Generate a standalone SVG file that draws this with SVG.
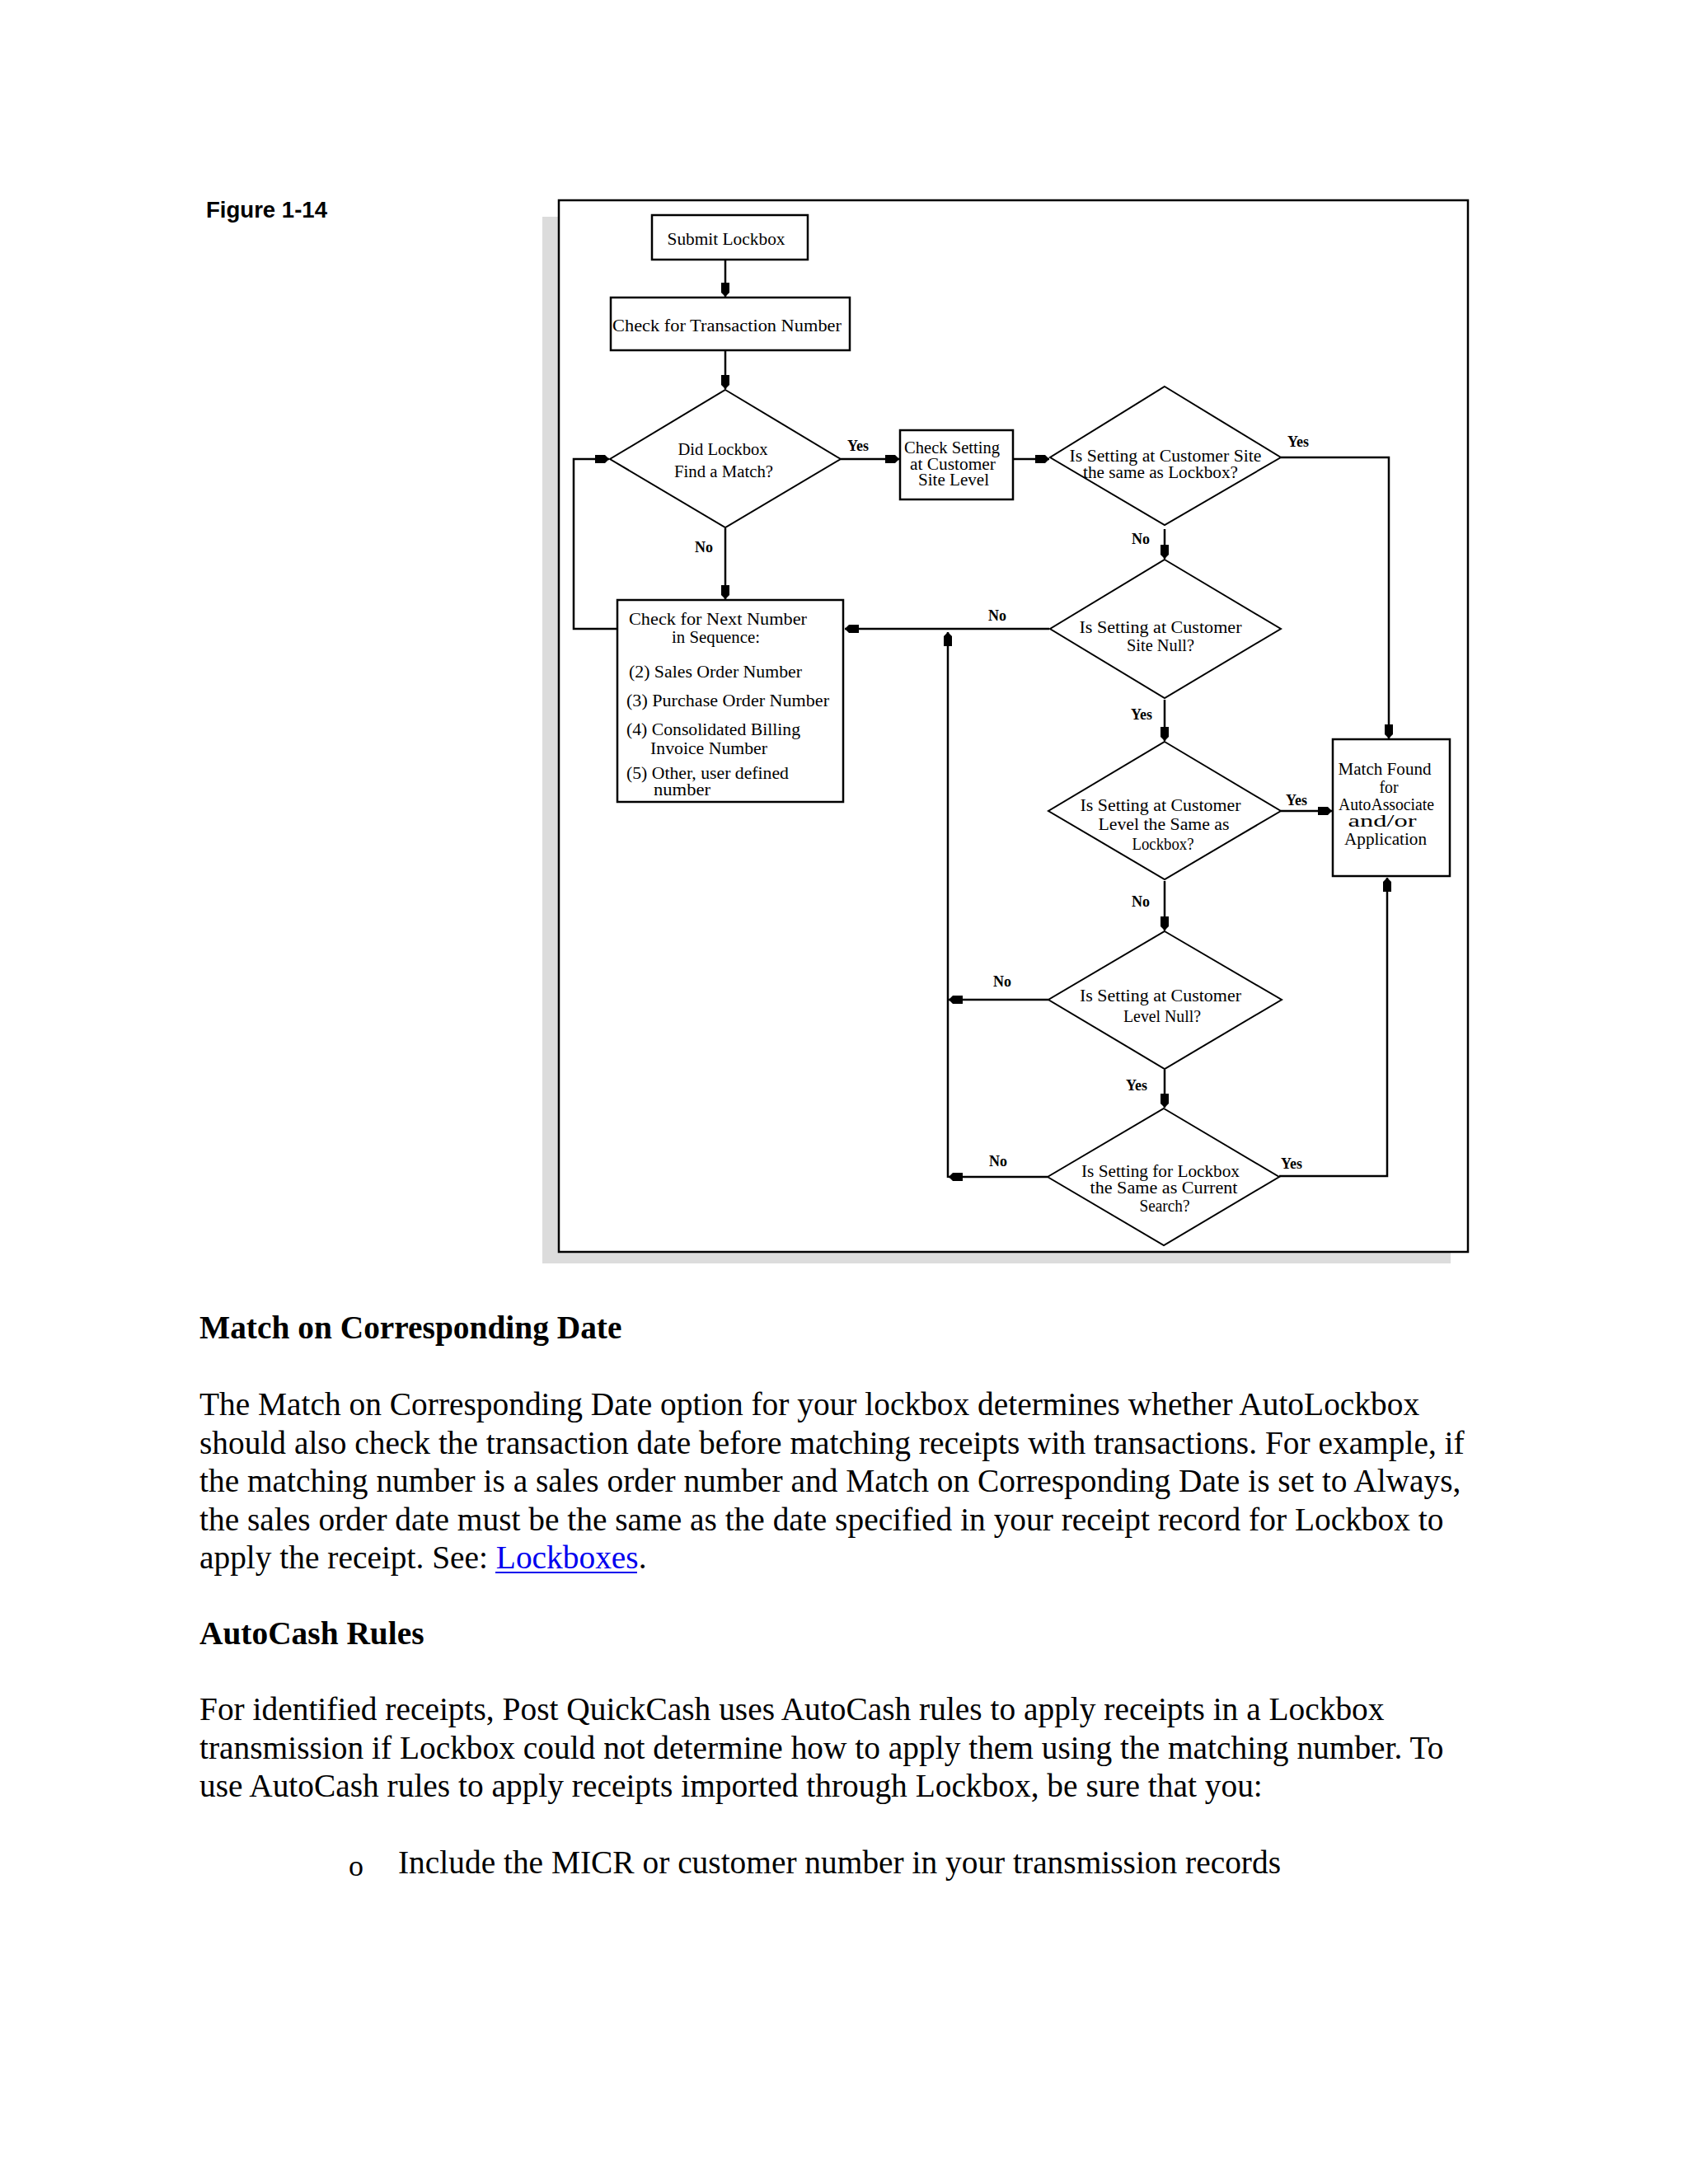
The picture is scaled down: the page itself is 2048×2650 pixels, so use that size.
<svg xmlns="http://www.w3.org/2000/svg" width="2048" height="2650" viewBox="0 0 2048 2650">
<style>
.bg{fill:#ffffff}
.box{fill:#ffffff;stroke:#000;stroke-width:2.5}
.dia{fill:#ffffff;stroke:#000;stroke-width:2}
.con{fill:none;stroke:#000;stroke-width:2.5}
.t{font-family:"Liberation Serif","Times New Roman",serif;font-size:20px;fill:#000;text-anchor:middle}
.tl{font-family:"Liberation Serif","Times New Roman",serif;font-size:20px;fill:#000}
.lab{font-family:"Liberation Serif","Times New Roman",serif;font-size:18px;font-weight:bold;fill:#000}
.fig{font-family:"Liberation Sans",Arial,sans-serif;font-size:28px;font-weight:bold;fill:#000}
.h{font-family:"Liberation Serif","Times New Roman",serif;font-size:39.4px;font-weight:bold;fill:#000}
.p{font-family:"Liberation Serif","Times New Roman",serif;font-size:39.4px;fill:#000}
</style>
<defs>
<marker id="ah" markerUnits="userSpaceOnUse" markerWidth="20" markerHeight="14" viewBox="0 -7 20 14" refX="17" refY="0" orient="auto">
<path d="M0,-5 L12,-5 L17,0 L12,5 L0,5 Z" fill="#000"/>
</marker>
</defs>
<rect class="bg" x="0" y="0" width="2048" height="2650"/>

<text class="fig" x="250" y="264" textLength="147" lengthAdjust="spacingAndGlyphs">Figure 1-14</text>

<g id="frame">
<rect x="658" y="263" width="1102" height="1270" fill="#dcdcdc"/>
<rect x="678" y="243" width="1103" height="1276" fill="#ffffff" stroke="#000" stroke-width="2.5"/>
</g>

<g id="connectors">
<path class="con" d="M880,315 V360" marker-end="url(#ah)"/>
<path class="con" d="M880,425 V472" marker-end="url(#ah)"/>
<path class="con" d="M1020,557 H1091" marker-end="url(#ah)"/>
<path class="con" d="M1229,557 H1273" marker-end="url(#ah)"/>
<path class="con" d="M1554,555 H1685 V896" marker-end="url(#ah)"/>
<path class="con" d="M1413,642 V678" marker-end="url(#ah)"/>
<path class="con" d="M1273,763 H1025" marker-end="url(#ah)"/>
<path class="con" d="M1150,1429 V767" marker-end="url(#ah)"/>
<path class="con" d="M1413,849 V899" marker-end="url(#ah)"/>
<path class="con" d="M1554,984 H1616" marker-end="url(#ah)"/>
<path class="con" d="M1413,1069 V1129" marker-end="url(#ah)"/>
<path class="con" d="M1272,1213 H1151" marker-end="url(#ah)"/>
<path class="con" d="M1413,1298 V1344" marker-end="url(#ah)"/>
<path class="con" d="M1271,1428 H1151" marker-end="url(#ah)"/>
<path class="con" d="M1552,1427 H1683 V1065" marker-end="url(#ah)"/>
<path class="con" d="M880,641 V727" marker-end="url(#ah)"/>
<path class="con" d="M749,763 H696 V557 H739" marker-end="url(#ah)"/>
<text class="lab" x="1028" y="547">Yes</text>
<text class="lab" x="843" y="670">No</text>
<text class="lab" x="1562" y="542">Yes</text>
<text class="lab" x="1373" y="660">No</text>
<text class="lab" x="1199" y="753">No</text>
<text class="lab" x="1372" y="873">Yes</text>
<text class="lab" x="1560" y="977">Yes</text>
<text class="lab" x="1373" y="1100">No</text>
<text class="lab" x="1205" y="1197">No</text>
<text class="lab" x="1366" y="1323">Yes</text>
<text class="lab" x="1200" y="1415">No</text>
<text class="lab" x="1554" y="1418">Yes</text>
</g>

<g id="submit">
<rect class="box" x="791" y="261" width="189" height="54"/>
<text class="t" x="881" y="297" textLength="143" lengthAdjust="spacingAndGlyphs">Submit Lockbox</text>
</g>

<g id="check-trans">
<rect class="box" x="741" y="361" width="290" height="64"/>
<text class="t" x="882" y="402" textLength="278" lengthAdjust="spacingAndGlyphs">Check for Transaction Number</text>
</g>

<g id="d-match">
<polygon class="dia" points="880,473 1020,557 880,640 740,557"/>
<text class="t" x="877" y="552" textLength="109" lengthAdjust="spacingAndGlyphs">Did Lockbox</text>
<text class="t" x="878" y="579" textLength="120" lengthAdjust="spacingAndGlyphs">Find a Match?</text>
</g>

<g id="check-site">
<rect class="box" x="1092" y="522" width="137" height="84"/>
<text class="t" x="1155" y="550" textLength="116" lengthAdjust="spacingAndGlyphs">Check Setting</text>
<text class="t" x="1156" y="570" textLength="104" lengthAdjust="spacingAndGlyphs">at Customer</text>
<text class="t" x="1157" y="589" textLength="86" lengthAdjust="spacingAndGlyphs">Site Level</text>
</g>

<g id="d-site-same">
<polygon class="dia" points="1413,469 1554,555 1413,637 1274,555"/>
<text class="t" x="1414" y="560" textLength="233" lengthAdjust="spacingAndGlyphs">Is Setting at Customer Site</text>
<text class="t" x="1408" y="580" textLength="188" lengthAdjust="spacingAndGlyphs">the same as Lockbox?</text>
</g>

<g id="d-site-null">
<polygon class="dia" points="1413,679 1554,763 1413,847 1274,763"/>
<text class="t" x="1408" y="768" textLength="197" lengthAdjust="spacingAndGlyphs">Is Setting at Customer</text>
<text class="t" x="1408" y="790" textLength="82" lengthAdjust="spacingAndGlyphs">Site Null?</text>
</g>

<g id="next-number">
<rect class="box" x="749" y="728" width="274" height="245"/>
<text class="tl" x="763" y="758" textLength="216" lengthAdjust="spacingAndGlyphs">Check for Next Number</text>
<text class="tl" x="815" y="780" textLength="107" lengthAdjust="spacingAndGlyphs">in Sequence:</text>
<text class="tl" x="763" y="822" textLength="210" lengthAdjust="spacingAndGlyphs">(2) Sales Order Number</text>
<text class="tl" x="760" y="857" textLength="246" lengthAdjust="spacingAndGlyphs">(3) Purchase Order Number</text>
<text class="tl" x="760" y="892" textLength="211" lengthAdjust="spacingAndGlyphs">(4) Consolidated  Billing</text>
<text class="tl" x="789" y="915" textLength="142" lengthAdjust="spacingAndGlyphs">Invoice  Number</text>
<text class="tl" x="760" y="945" textLength="197" lengthAdjust="spacingAndGlyphs">(5) Other, user defined</text>
<text class="tl" x="793" y="965" textLength="69" lengthAdjust="spacingAndGlyphs">number</text>
</g>

<g id="d-cust-same">
<polygon class="dia" points="1413,900 1554,984 1413,1067 1272,984"/>
<text class="t" x="1408" y="984" textLength="195" lengthAdjust="spacingAndGlyphs">Is Setting at Customer</text>
<text class="t" x="1412" y="1007" textLength="159" lengthAdjust="spacingAndGlyphs">Level the Same as</text>
<text class="t" x="1411" y="1031" textLength="75" lengthAdjust="spacingAndGlyphs">Lockbox?</text>
</g>

<g id="match-found">
<rect class="box" x="1617" y="897" width="142" height="166"/>
<text class="t" x="1680" y="940" textLength="113" lengthAdjust="spacingAndGlyphs">Match Found</text>
<text class="t" x="1685" y="962" textLength="23" lengthAdjust="spacingAndGlyphs">for</text>
<text class="t" x="1682" y="983" textLength="116" lengthAdjust="spacingAndGlyphs">AutoAssociate</text>
<text class="t" x="1677" y="1003" textLength="83" lengthAdjust="spacingAndGlyphs">and/or</text>
<text class="t" x="1681" y="1025" textLength="100" lengthAdjust="spacingAndGlyphs">Application</text>
</g>

<g id="d-cust-null">
<polygon class="dia" points="1413,1130 1555,1213 1413,1297 1272,1213"/>
<text class="t" x="1408" y="1215" textLength="196" lengthAdjust="spacingAndGlyphs">Is Setting at Customer</text>
<text class="t" x="1410" y="1240" textLength="94" lengthAdjust="spacingAndGlyphs">Level Null?</text>
</g>

<g id="d-lockbox-same">
<polygon class="dia" points="1412,1345 1552,1428 1412,1511 1271,1428"/>
<text class="t" x="1408" y="1428" textLength="192" lengthAdjust="spacingAndGlyphs">Is Setting for Lockbox</text>
<text class="t" x="1412" y="1448" textLength="179" lengthAdjust="spacingAndGlyphs">the Same as Current</text>
<text class="t" x="1413" y="1470" textLength="61" lengthAdjust="spacingAndGlyphs">Search?</text>
</g>

<text class="h" x="242" y="1624">Match on Corresponding Date</text>
<text class="p" x="242" y="1717">The Match on Corresponding Date option for your lockbox determines whether AutoLockbox</text>
<text class="p" x="242" y="1764">should also check the transaction date before matching receipts with transactions. For example, if</text>
<text class="p" x="242" y="1810">the matching number is a sales order number and Match on Corresponding Date is set to Always,</text>
<text class="p" x="242" y="1857">the sales order date must be the same as the date specified in your receipt record for Lockbox to</text>
<text class="p" x="242" y="1903">apply the receipt. See: <tspan fill="#0000ee">Lockboxes</tspan>.</text>
<line x1="601" y1="1908" x2="773" y2="1908" stroke="#0000ee" stroke-width="2"/>

<text class="h" x="242" y="1995">AutoCash Rules</text>
<text class="p" x="242" y="2087">For identified receipts, Post QuickCash uses AutoCash rules to apply receipts in a Lockbox</text>
<text class="p" x="242" y="2134">transmission if Lockbox could not determine how to apply them using the matching number. To</text>
<text class="p" x="242" y="2180">use AutoCash rules to apply receipts imported through Lockbox, be sure that you:</text>
<text class="p" x="423" y="2276" style="font-size:36px">o</text>
<text class="p" x="483" y="2273">Include the MICR or customer number in your transmission records</text>
</svg>
